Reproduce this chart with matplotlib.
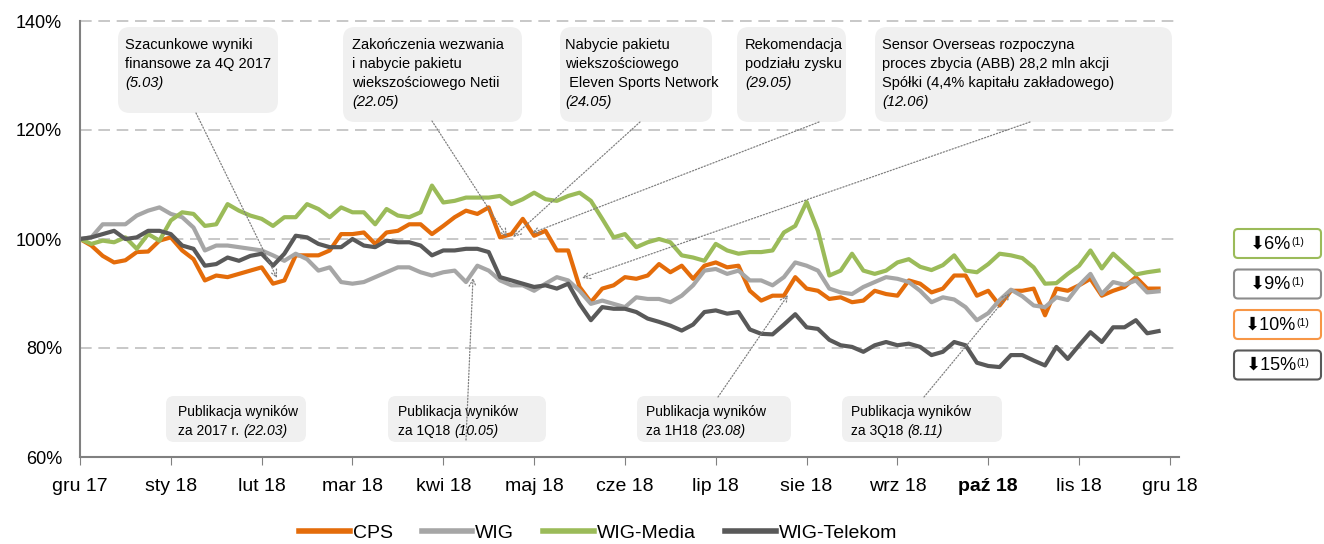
import matplotlib
matplotlib.use('Agg')
import matplotlib.pyplot as plt
import numpy as np
from matplotlib.patches import FancyBboxPatch
from matplotlib.transforms import IdentityTransform
from matplotlib.text import Annotation

W, H = 1324, 544
plt.rcParams['font.family'] = ['Liberation Sans', 'DejaVu Sans']

# --- data: index (base 100), 8 points per month ---
month_labels = ['gru 17', 'sty 18', 'lut 18', 'mar 18', 'kwi 18', 'maj 18', 'cze 18',
                'lip 18', 'sie 18', 'wrz 18', 'paź 18', 'lis 18', 'gru 18']

cps = [100, 98.8, 96.9, 95.7, 96.1, 97.6, 97.7, 99.7, 100.3, 97.9, 96.3, 92.4,
       93.3, 93.0, 93.6, 94.2, 94.8, 91.8, 92.4, 97.0, 97.0, 97.0, 97.9, 100.9,
       100.9, 101.2, 99.1, 101.2, 101.5, 102.7, 102.7, 100.9, 102.4, 104.0, 105.2, 104.6,
       105.8, 100.3, 100.9, 103.7, 100.6, 101.5, 97.9, 97.9, 91.2, 88.4, 90.9, 91.5,
       93.0, 92.7, 93.3, 95.4, 93.9, 95.1, 92.7, 95.1, 95.7, 94.8, 95.1, 90.5,
       88.7, 89.6, 89.6, 93.0, 90.9, 90.5, 89.0, 89.3, 88.4, 88.7, 90.5, 89.9,
       89.6, 92.4, 91.8, 90.2, 90.9, 93.3, 93.3, 89.6, 90.5, 87.8, 90.5, 90.5,
       90.9, 86.0, 90.9, 90.5, 91.5, 92.7, 89.6, 90.5, 91.2, 93.0, 90.9, 90.9]

wig = [100, 100.3, 102.7, 102.7, 102.7, 104.3, 105.2, 105.8, 104.6, 104.0, 102.1, 97.9,
       98.8, 98.8, 98.5, 98.2, 97.9, 97.0, 96.0, 97.3, 96.3, 94.2, 94.8, 92.1,
       91.8, 92.1, 93.0, 93.9, 94.8, 94.8, 93.9, 93.3, 93.9, 94.2, 92.1, 95.1,
       94.2, 92.4, 91.5, 91.5, 90.5, 91.8, 93.0, 92.4, 90.5, 88.1, 88.7, 88.1,
       87.5, 89.3, 89.0, 89.0, 88.4, 89.6, 91.5, 94.2, 94.5, 93.6, 94.2, 92.4,
       92.4, 91.5, 93.0, 95.7, 95.1, 94.2, 90.9, 90.2, 89.9, 91.2, 92.1, 93.0,
       92.7, 92.1, 90.5, 88.4, 89.3, 88.9, 87.5, 85.1, 86.4, 88.8, 90.7, 89.5,
       87.8, 87.5, 89.3, 88.8, 91.5, 93.6, 89.9, 92.1, 91.6, 92.4, 90.2, 90.4]

wig_media = [100, 99.1, 99.7, 99.4, 100.3, 98.2, 100.9, 99.7, 103.4, 104.9, 104.6, 102.4,
             102.7, 106.4, 105.2, 104.3, 103.7, 102.4, 104.0, 104.0, 106.4, 105.5, 104.0, 105.8,
             104.9, 104.9, 102.7, 105.5, 104.3, 104.0, 104.9, 109.8, 106.7, 107.0, 107.6, 107.6,
             107.6, 107.9, 106.4, 107.3, 108.5, 107.3, 107.0, 107.9, 108.5, 107.0, 103.7, 100.3,
             100.9, 98.5, 99.4, 100.0, 99.4, 97.0, 96.6, 96.0, 99.1, 97.9, 97.3, 97.6,
             97.6, 97.9, 101.2, 102.4, 106.8, 101.5, 93.3, 94.2, 97.3, 94.2, 93.6, 94.2,
             95.7, 96.3, 94.9, 94.3, 95.2, 97.0, 94.2, 93.9, 95.4, 97.3, 97.0, 96.5,
             94.8, 91.8, 91.9, 93.6, 95.1, 97.9, 94.6, 97.3, 95.4, 93.5, 93.9, 94.2]

wig_telekom = [100, 100.3, 100.9, 101.5, 100.0, 100.3, 101.5, 101.5, 100.9, 98.8, 98.2, 95.1,
               95.4, 96.6, 96.0, 96.9, 97.3, 95.1, 97.3, 100.6, 100.3, 99.1, 98.5, 98.5,
               100.0, 98.8, 98.5, 99.7, 99.4, 99.4, 98.8, 97.0, 97.9, 97.9, 98.2, 98.2,
               97.6, 93.0, 92.4, 91.8, 91.2, 91.5, 90.9, 91.8, 88.1, 85.1, 87.5, 87.2,
               87.2, 86.6, 85.4, 84.8, 84.1, 83.2, 84.3, 86.6, 86.9, 86.3, 86.6, 83.4,
               82.6, 82.5, 84.3, 86.2, 83.8, 83.5, 81.5, 80.5, 80.2, 79.3, 80.5, 81.1,
               80.5, 80.8, 80.2, 78.7, 79.3, 81.1, 80.5, 77.3, 76.7, 76.5, 78.7, 78.7,
               77.7, 76.8, 80.2, 78.0, 80.5, 82.9, 81.1, 83.8, 83.8, 85.1, 82.7, 83.1]

series_names = ['CPS', 'WIG', 'WIG-Media', 'WIG-Telekom']
series_colors = ['#E46C0A', '#A6A6A6', '#9BBB59', '#595959']
changes = ['6%', '9%', '10%', '15%']
change_colors = ['#9BBB59', '#8C8C8C', '#F79646', '#595959']

months = np.arange(len(cps)) / 8.0

fig = plt.figure(figsize=(W / 100, H / 100), dpi=100)
ax = fig.add_axes([80 / W, 87 / H, 1099 / W, 436 / H])

for vals, name, col in zip([cps, wig, wig_media, wig_telekom], series_names, series_colors):
    ax.plot(months, vals, color=col, lw=3.0, label=name, solid_joinstyle='round')

ax.set_xlim(0, 12.1)
ax.set_ylim(60, 140)
ax.set_xticks(range(13))
ax.set_xticklabels(month_labels)
ax.get_xticklabels()[10].set_fontweight('bold')
ax.set_yticks([60, 80, 100, 120, 140])
ax.set_yticklabels(['60%', '80%', '100%', '120%', '140%'])
ax.tick_params(axis='x', length=6, color='#808080', pad=9, labelsize=14)
ax.tick_params(axis='y', length=0, pad=13, labelsize=13)
for y in [80, 100, 120, 140]:
    ax.axhline(y, color='#BFBFBF', lw=1.2, dashes=(7, 4), zorder=0, clip_on=False)
for s in ['top', 'right']:
    ax.spines[s].set_visible(False)
for s in ['left', 'bottom']:
    ax.spines[s].set_color('#808080')
    ax.spines[s].set_linewidth(1.5)

leg = ax.legend(loc='center', bbox_to_anchor=(598 / W, 1 - 533 / H),
                bbox_transform=fig.transFigure, ncol=4, frameon=False,
                fontsize=14, handlelength=2.6, handletextpad=0.15, columnspacing=1.5)
for line in leg.get_lines():
    line.set_linewidth(4)


def box(x0, y0, x1, y1, r, fc='#F0F0F0', ec='none', lw=0):
    p = FancyBboxPatch((x0, H - y1), x1 - x0, y1 - y0,
                       boxstyle='round,pad=0,rounding_size=%d' % r,
                       transform=IdentityTransform(), fc=fc, ec=ec, lw=lw, zorder=2)
    fig.add_artist(p)


def txt(x, y, s, size=10.5, style='normal', **kw):
    return fig.text(x / W, 1 - y / H, s, fontsize=size, style=style,
                    va='center', ha='left', zorder=3, **kw)


def arrow(x0, y0, x1, y1):
    a = Annotation('', xy=(x1, H - y1), xytext=(x0, H - y0),
                   xycoords='figure pixels', textcoords='figure pixels',
                   arrowprops=dict(arrowstyle='->,head_length=0.5,head_width=0.25',
                                   color='#7F7F7F', lw=0.9, linestyle=(0, (1, 1.5)),
                                   shrinkA=0, shrinkB=0))
    a.set_zorder(4)
    fig.add_artist(a)


# top event boxes
top_boxes = [
    (118, 27, 278, 113, ['Szacunkowe wyniki', 'finansowe za 4Q 2017'], '(5.03)', 125),
    (343, 27, 522, 122, ['Zakończenia wezwania', 'i nabycie pakietu', 'wiekszościowego Netii'], '(22.05)', 352),
    (560, 27, 712, 122, ['Nabycie pakietu', 'wiekszościowego', ' Eleven Sports Network'], '(24.05)', 565),
    (737, 27, 846, 122, ['Rekomendacja', 'podziału zysku'], '(29.05)', 745),
    (875, 27, 1172, 122, ['Sensor Overseas rozpoczyna', 'proces zbycia (ABB) 28,2 mln akcji',
                          'Spółki (4,4% kapitału zakładowego)'], '(12.06)', 882),
]
for x0, y0, x1, y1, lines, date, tx in top_boxes:
    box(x0, y0, x1, y1, 12)
    for i, s in enumerate(lines):
        txt(tx, 45 + 19 * i, s)
    txt(tx, 45 + 19 * len(lines), date, style='italic')

# bottom event boxes
bottom_boxes = [
    (166, 396, 306, 442, 'za 2017 r.', '(22.03)', 178),
    (388, 396, 546, 442, 'za 1Q18', '(10.05)', 398),
    (637, 396, 791, 442, 'za 1H18', '(23.08)', 646),
    (842, 396, 1002, 442, 'za 3Q18', '(8.11)', 851),
]
for x0, y0, x1, y1, l2, date, tx in bottom_boxes:
    box(x0, y0, x1, y1, 8)
    txt(tx, 412, 'Publikacja wyników', size=10)
    t = txt(tx, 431, l2, size=10)
    d = Annotation(date, xy=(1, 0), xycoords=t, xytext=(3, 0), textcoords='offset points',
                   fontsize=10, style='italic', va='bottom', ha='left')
    d.set_zorder(3)
    fig.add_artist(d)

# dotted pointers
arrow(196, 113, 277, 278)
arrow(432, 121, 507, 237)
arrow(640, 122, 513, 237)
arrow(819, 122, 532, 233)
arrow(1030, 122, 582, 278)
arrow(466, 440, 473, 278)
arrow(718, 397, 788, 295)
arrow(924, 397, 1010, 293)

# change badges on the right
for i, (chg, col) in enumerate(zip(changes, change_colors)):
    yt = 229 + 40.5 * i
    box(1234, yt, 1321, yt + 29, 4, fc='white', ec=col, lw=1.5)
    m = fig.text(1271 / W, 1 - (yt + 15) / H, '⬇' + chg, fontsize=13,
                 ha='center', va='center', zorder=3)
    sup = Annotation('(1)', xy=(1, 1), xycoords=m, xytext=(0, -1), textcoords='offset points',
                     fontsize=7.5, va='top', ha='left')
    sup.set_zorder(3)
    fig.add_artist(sup)

fig.savefig('out.png', dpi=100)
